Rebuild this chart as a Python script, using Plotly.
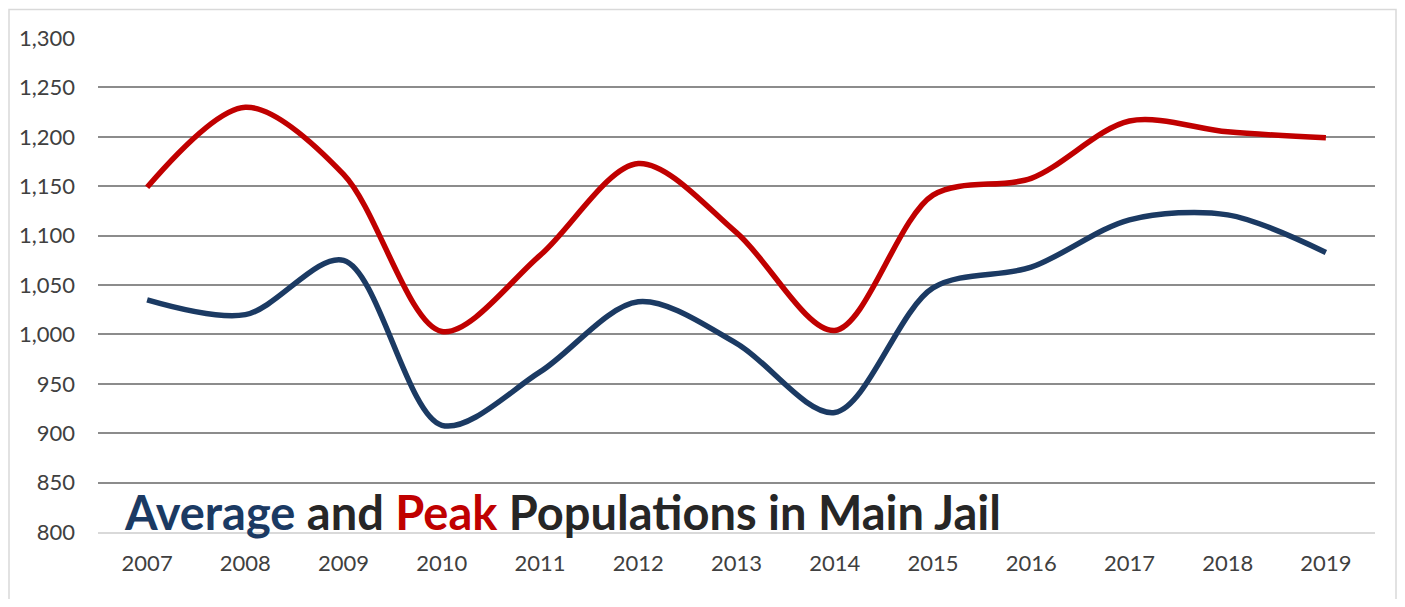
import plotly.graph_objects as go

years = ["2007", "2008", "2009", "2010", "2011", "2012", "2013",
         "2014", "2015", "2016", "2017", "2018", "2019"]
average = [1035, 1020, 1075, 908, 962, 1033, 991, 921, 1047, 1068, 1116, 1121, 1083]
peak = [1149, 1230, 1162, 1003, 1080, 1173, 1103, 1004, 1141, 1158, 1216, 1205, 1199]
y_ticks = [800, 850, 900, 950, 1000, 1050, 1100, 1150, 1200, 1250, 1300]

OFF = 8  # page body margin
W, H = 1405 - 2 * OFF, 607 - 2 * OFF
ML, MT = 98 - OFF, 38 - OFF
MR = OFF + W - 1375
MB = OFF + H - 532
PW, PH = W - ML - MR, H - MT - MB

fig = go.Figure()
fig.add_trace(go.Scatter(x=years, y=average, mode="lines", name="Average",
                         line=dict(color="#1B3A63", width=5.5, shape="spline", smoothing=0.9)))
fig.add_trace(go.Scatter(x=years, y=peak, mode="lines", name="Peak",
                         line=dict(color="#C00000", width=5.5, shape="spline", smoothing=0.9)))

font_family = "Lato, 'Open Sans', sans-serif"

fig.update_layout(
    width=W, height=H,
    margin=dict(l=ML, r=MR, t=MT, b=MB),
    paper_bgcolor="white", plot_bgcolor="white",
    showlegend=False,
    font=dict(family=font_family, color="#404040", size=22),
    xaxis=dict(type="category", range=[-0.5, 12.5], showgrid=False,
               showline=True, linecolor="#D9D9D9", linewidth=2,
               ticks="", tickfont=dict(size=22, color="#404040"),
               ticklabelstandoff=11, zeroline=False),
    yaxis=dict(range=[800, 1300], tickvals=y_ticks,
               ticktext=[f"{v:,}" for v in y_ticks],
               showgrid=True, gridcolor="#8C8C8C", gridwidth=1.5,
               showline=False, zeroline=False, ticks="",
               tickfont=dict(size=22, color="#404040"),
               ticklabelstandoff=22),
)

# outer frame (page coords -> paper coords)
def px(xp):
    return (xp - 98) / PW

def py(yp):
    return (532 - yp) / PH

fig.add_shape(type="rect", xref="paper", yref="paper",
              x0=px(9), x1=px(1396), y0=py(640), y1=py(9.5),
              line=dict(color="#D9D9D9", width=1.5), layer="below")

fig.add_annotation(
    xref="paper", yref="paper", x=px(122), y=0,
    xanchor="left", yanchor="bottom", yshift=-10, showarrow=False,
    text=("<b><span style='color:#1B3A63'>Average</span> "
          "<span style='color:#262626'>and</span> "
          "<span style='color:#C00000'>Peak</span> "
          "<span style='color:#262626'>Populations in Main Jail</span></b>"),
    font=dict(family=font_family, size=47),
)

fig.write_html("out.html")
